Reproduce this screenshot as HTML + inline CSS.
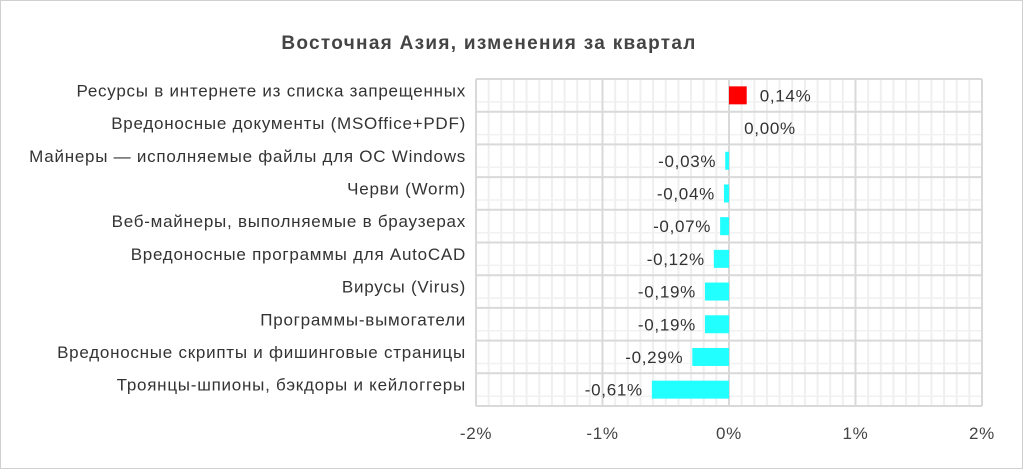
<!DOCTYPE html>
<html><head><meta charset="utf-8"><style>
body{margin:0;background:#fff;}
svg{display:block;font-family:"Liberation Sans",sans-serif;}
</style></head><body>
<svg width="1023" height="469" viewBox="0 0 1023 469">
<rect x="0.5" y="0.5" width="1022" height="468" fill="#fff" stroke="#d0d0d0"/>
<text x="489" y="49" text-anchor="middle" font-size="19" font-weight="bold" fill="#444" letter-spacing="1.3">Восточная Азия, изменения за квартал</text>
<g id="grid"></g>
<g id="bars"></g>
</svg>
<script>
const L=476,R=982,T=79,B=406,z=729,u=126.5;
const g=document.getElementById('grid'),bg=document.getElementById('bars');
let s='';
for(let i=0;i<=40;i++){const x=L+i*(R-L)/40;if(i%10)s+=`<line x1="${x}" x2="${x}" y1="${T}" y2="${B}" stroke="#efefef" stroke-width="2"/>`;}
const rh=(B-T)/10;
for(let i=0;i<10;i++){const y=T+i*rh+rh*0.7;s+=`<line x1="${L}" x2="${R}" y1="${y}" y2="${y}" stroke="#f1f1f1" stroke-width="1.5"/>`;}
for(let i=0;i<=10;i++){const y=T+i*rh;s+=`<line x1="${L}" x2="${R}" y1="${y}" y2="${y}" stroke="#d9d9d9" stroke-width="2"/>`;}
for(let i=0;i<=4;i++){const x=L+i*(R-L)/4;s+=`<line x1="${x}" x2="${x}" y1="${T}" y2="${B}" stroke="#d9d9d9" stroke-width="2"/>`;
s+=`<text x="${x}" y="439" text-anchor="middle" font-size="17" letter-spacing="0.7" fill="#444">${i-2}%</text>`;}
g.innerHTML=s;
const d=[["Ресурсы в интернете из списка запрещенных",0.14],["Вредоносные документы (MSOffice+PDF)",0],["Майнеры — исполняемые файлы для ОС Windows",-0.03],["Черви (Worm)",-0.04],["Веб-майнеры, выполняемые в браузерах",-0.07],["Вредоносные программы для AutoCAD",-0.12],["Вирусы (Virus)",-0.19],["Программы-вымогатели",-0.19],["Вредоносные скрипты и фишинговые страницы",-0.29],["Троянцы-шпионы, бэкдоры и кейлоггеры",-0.61]];
let b='';
d.forEach((r,i)=>{const cy=T+i*rh+rh/2;
b+=`<text x="466" y="${cy+1}" text-anchor="end" font-size="17" letter-spacing="0.75" fill="#333">${r[0]}</text>`;
const v=r[1],w=Math.abs(v)*u,lab=v.toFixed(2).replace('.',',')+'%';
if(v>0){b+=`<rect x="${z}" y="${cy-9}" width="${w}" height="18" fill="#ff0000"/>`;b+=`<text x="${z+w+13}" y="${cy+6}" font-size="17" letter-spacing="0.7" fill="#333">${lab}</text>`;}
else if(v<0){b+=`<rect x="${z-w}" y="${cy-9}" width="${w}" height="18" fill="#22ffff"/>`;b+=`<text x="${z-w-9}" y="${cy+6}" text-anchor="end" font-size="17" letter-spacing="0.7" fill="#333">${lab}</text>`;}
else b+=`<text x="770" y="${cy+6}" text-anchor="middle" font-size="17" letter-spacing="0.7" fill="#333">${lab}</text>`;});
bg.innerHTML=b;
</script>
</body></html>
